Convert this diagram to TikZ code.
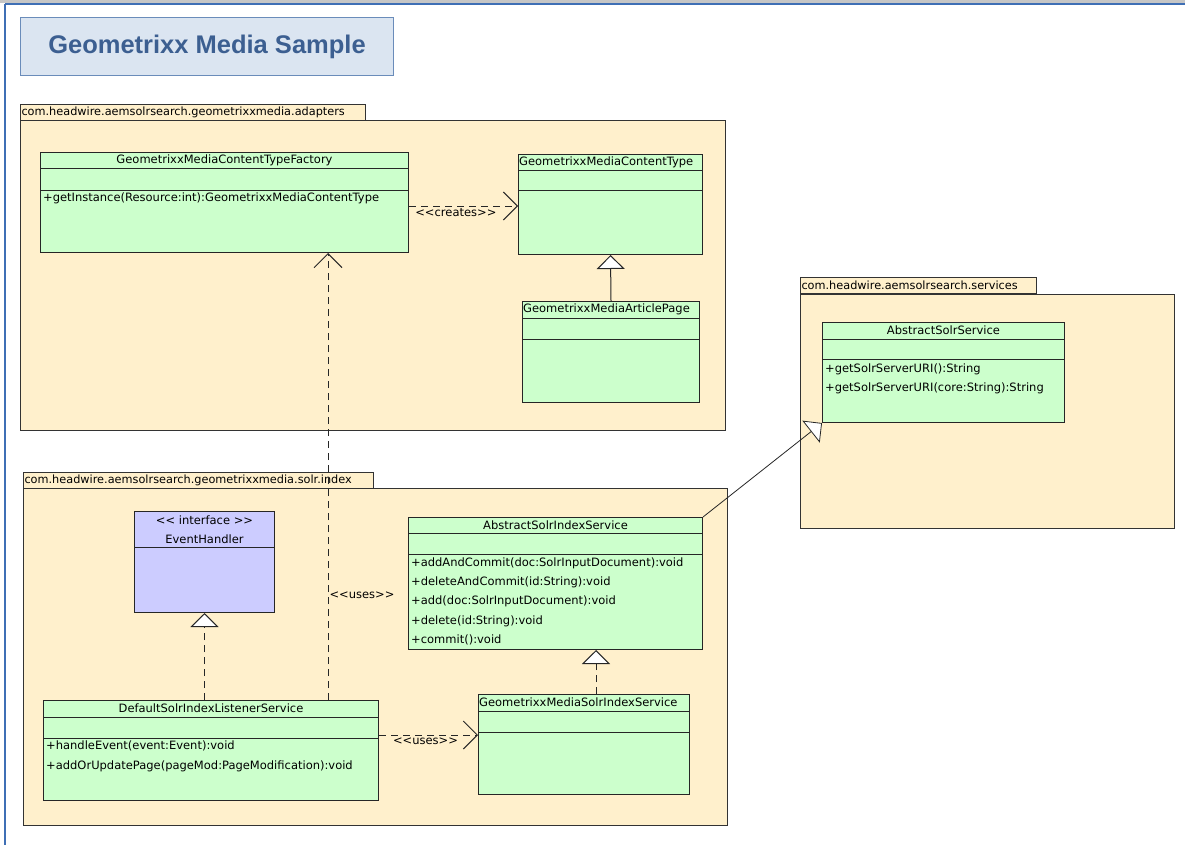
\documentclass[tikz,border=0pt]{standalone}
\usepackage{fontspec}
\setmainfont{DejaVu Sans}
\newfontfamily\titlefont{Liberation Sans}
\usetikzlibrary{arrows.meta}

\definecolor{pkgfill}{HTML}{FFF0CC}
\definecolor{clsfill}{HTML}{CCFFCC}
\definecolor{ifacefill}{HTML}{CCCCFF}
\definecolor{titlefill}{HTML}{DBE5F1}
\definecolor{titleline}{HTML}{6A8CBA}
\definecolor{titletext}{HTML}{3C5F91}
\definecolor{winblue}{HTML}{3F6FB5}

\begin{document}
\begin{tikzpicture}[x=1pt, y=-1pt,
    pkgtab/.style={draw=black!80, fill=pkgfill, line width=1pt, anchor=north west, inner xsep=1pt, inner ysep=0pt, minimum height=16pt, align=left, font=\fontsize{11.3}{13}\selectfont},
    pkgbody/.style={draw=black!80, fill=pkgfill, line width=1pt, anchor=north west},
    cls/.style={draw=black!85, fill=clsfill, line width=1pt, anchor=north west, inner sep=0pt},
    sep/.style={draw=black!85, line width=1pt},
    clsname/.style={inner sep=0pt, font=\fontsize{11.5}{13}\selectfont},
    op/.style={anchor=west, inner sep=0pt, font=\fontsize{11.5}{13}\selectfont},
    lbl/.style={inner sep=0pt, font=\fontsize{11.5}{13}\selectfont},
    dep/.style={draw=black!85, line width=1pt, dash pattern=on 7pt off 5pt, -{Straight Barb[length=14pt,width=28pt]}},
    real/.style={draw=black!85, line width=1pt, dash pattern=on 7pt off 5pt, -{Triangle[length=14pt,width=28pt,fill=white]}},
    gen/.style={draw=black!85, line width=1pt, -{Triangle[length=14pt,width=28pt,fill=white]}}]

    \useasboundingbox (0,0) rectangle (1185,845);
    \fill[white] (0,0) rectangle (1185,845);

    % Window frame
    \fill[gray!45] (0,0) rectangle (1185,3);
    \draw[winblue, line width=1.5pt] (5,4) -- (1185,4);
    \draw[winblue, line width=1.5pt] (5,4) -- (5,845);

    % Title
    \node[draw=titleline, fill=titlefill, line width=1pt, anchor=north west, minimum width=373pt, minimum height=58pt, text=titletext, font=\titlefont\bfseries\fontsize{25.5}{28}\selectfont] (title) at (20,17) {Geometrixx Media Sample};

    % Packages
    \node[pkgtab, text width=343pt] (adapterstab) at (20,104) {com.headwire.aemsolrsearch.geometrixxmedia.adapters};
    \node[pkgbody, minimum width=705pt, minimum height=310pt] (adapters) at (20,120) {};

    \node[pkgtab, text width=234pt] (servicestab) at (800,277) {com.headwire.aemsolrsearch.services};
    \node[pkgbody, minimum width=374pt, minimum height=234pt] (services) at (800,294) {};

    \node[pkgtab, text width=348pt] (solrindextab) at (23,472) {com.headwire.aemsolrsearch.geometrixxmedia.solr.index};
    \node[pkgbody, minimum width=704pt, minimum height=337pt] (solrindex) at (23,488) {};

    % GeometrixxMediaContentTypeFactory
    \node[cls, minimum width=368pt, minimum height=100pt] (factory) at (40,152) {};
    \draw[sep] ([yshift=-17pt]factory.north west) -- ([yshift=-17pt]factory.north east);
    \draw[sep] ([yshift=-39pt]factory.north west) -- ([yshift=-39pt]factory.north east);
    \node[clsname] (factoryname) at ([yshift=-8.5pt]factory.north) {GeometrixxMediaContentTypeFactory};
    \node[op] (factoryop1) at ([shift={(3pt,-46pt)}]factory.north west) {+getInstance(Resource:int):GeometrixxMediaContentType};

    % GeometrixxMediaContentType
    \node[cls, minimum width=184pt, minimum height=100pt] (ctype) at (518,154) {};
    \draw[sep] ([yshift=-17pt]ctype.north west) -- ([yshift=-17pt]ctype.north east);
    \draw[sep] ([yshift=-37pt]ctype.north west) -- ([yshift=-37pt]ctype.north east);
    \node[op] (ctypename) at ([shift={(1pt,-8.5pt)}]ctype.north west) {GeometrixxMediaContentType};

    % GeometrixxMediaArticlePage
    \node[cls, minimum width=177pt, minimum height=101pt] (article) at (522,301) {};
    \draw[sep] ([yshift=-17pt]article.north west) -- ([yshift=-17pt]article.north east);
    \draw[sep] ([yshift=-38pt]article.north west) -- ([yshift=-38pt]article.north east);
    \node[op] (articlename) at ([shift={(1pt,-8.5pt)}]article.north west) {GeometrixxMediaArticlePage};

    % AbstractSolrService
    \node[cls, minimum width=242pt, minimum height=100pt] (solrservice) at (822,322) {};
    \draw[sep] ([yshift=-17pt]solrservice.north west) -- ([yshift=-17pt]solrservice.north east);
    \draw[sep] ([yshift=-37pt]solrservice.north west) -- ([yshift=-37pt]solrservice.north east);
    \node[clsname] (solrservicename) at ([yshift=-8.5pt]solrservice.north) {AbstractSolrService};
    \node[op] (solrserviceop1) at ([shift={(3pt,-47pt)}]solrservice.north west) {+getSolrServerURI():String};
    \node[op] (solrserviceop2) at ([shift={(3pt,-66pt)}]solrservice.north west) {+getSolrServerURI(core:String):String};

    % EventHandler
    \node[cls, fill=ifacefill, minimum width=140pt, minimum height=101pt] (handler) at (134,511) {};
    \draw[sep] ([yshift=-36pt]handler.north west) -- ([yshift=-36pt]handler.north east);
    \node[clsname] (handlerstereo) at ([yshift=-9pt]handler.north) {<{}< interface >{}>};
    \node[clsname] (handlername) at ([yshift=-28pt]handler.north) {EventHandler};

    % AbstractSolrIndexService
    \node[cls, minimum width=294pt, minimum height=132pt] (indexservice) at (408,517) {};
    \draw[sep] ([yshift=-16pt]indexservice.north west) -- ([yshift=-16pt]indexservice.north east);
    \draw[sep] ([yshift=-37pt]indexservice.north west) -- ([yshift=-37pt]indexservice.north east);
    \node[clsname] (indexservicename) at ([yshift=-8pt]indexservice.north) {AbstractSolrIndexService};
    \node[op] (indexserviceop1) at ([shift={(3pt,-46pt)}]indexservice.north west) {+addAndCommit(doc:SolrInputDocument):void};
    \node[op] (indexserviceop2) at ([shift={(3pt,-65pt)}]indexservice.north west) {+deleteAndCommit(id:String):void};
    \node[op] (indexserviceop3) at ([shift={(3pt,-84pt)}]indexservice.north west) {+add(doc:SolrInputDocument):void};
    \node[op] (indexserviceop4) at ([shift={(3pt,-104pt)}]indexservice.north west) {+delete(id:String):void};
    \node[op] (indexserviceop5) at ([shift={(3pt,-123pt)}]indexservice.north west) {+commit():void};

    % DefaultSolrIndexListenerService
    \node[cls, minimum width=335pt, minimum height=100pt] (listener) at (43,700) {};
    \draw[sep] ([yshift=-17pt]listener.north west) -- ([yshift=-17pt]listener.north east);
    \draw[sep] ([yshift=-38pt]listener.north west) -- ([yshift=-38pt]listener.north east);
    \node[clsname] (listenername) at ([yshift=-8.5pt]listener.north) {DefaultSolrIndexListenerService};
    \node[op] (listenerop1) at ([shift={(3pt,-46pt)}]listener.north west) {+handleEvent(event:Event):void};
    \node[op] (listenerop2) at ([shift={(3pt,-66pt)}]listener.north west) {+addOrUpdatePage(pageMod:PageModification):void};

    % GeometrixxMediaSolrIndexService
    \node[cls, minimum width=211pt, minimum height=100pt] (mediaindex) at (478,694) {};
    \draw[sep] ([yshift=-17pt]mediaindex.north west) -- ([yshift=-17pt]mediaindex.north east);
    \draw[sep] ([yshift=-38pt]mediaindex.north west) -- ([yshift=-38pt]mediaindex.north east);
    \node[op] (mediaindexname) at ([shift={(1pt,-8.5pt)}]mediaindex.north west) {GeometrixxMediaSolrIndexService};

    % Relations
    \draw[dep] ([yshift=-54pt]factory.north east) -- ([yshift=-52pt]ctype.north west)
        node[lbl, pos=0.43, yshift=-7pt] (createslbl) {<{}<creates>{}>};
    \draw[gen] (article.north) -- (ctype.south);
    \draw[dep] ([xshift=285pt]listener.north west) -- ([xshift=285pt]listener.north west |- factory.south)
        node[lbl, pos=0.234, xshift=34pt] (useslbl1) {<{}<uses>{}>};
    \draw[real] (handler.south |- listener.north) -- (handler.south);
    \draw[dep] ([yshift=-35pt]listener.north east) -- ([yshift=-35pt]listener.north east -| mediaindex.west)
        node[lbl, pos=0.47, yshift=-6pt] (useslbl2) {<{}<uses>{}>};
    \draw[real] ([xshift=118pt]mediaindex.north west) -- ([xshift=118pt]mediaindex.north west |- indexservice.south);
    \draw[gen, line width=0.8pt] (indexservice.north east) -- (solrservice.south west);

\end{tikzpicture}
\end{document}
